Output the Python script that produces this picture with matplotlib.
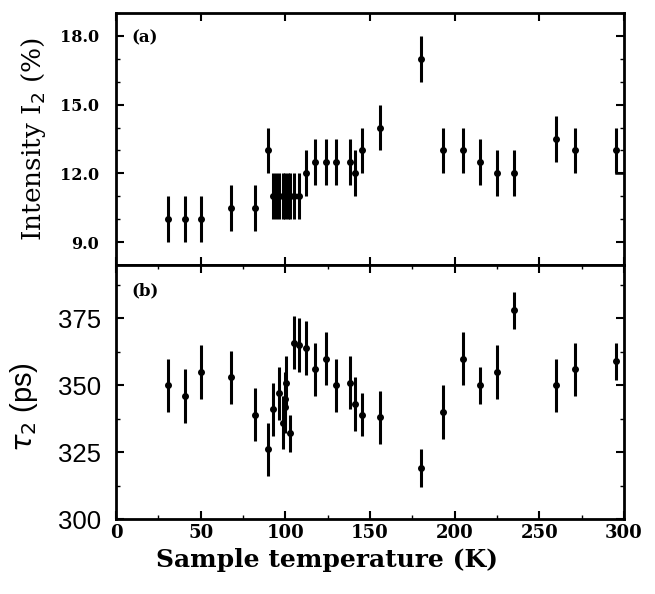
import matplotlib
matplotlib.use("Agg")
import matplotlib.pyplot as plt
from matplotlib.ticker import MultipleLocator

# Panel (a): intensity I2 (%)
T_a = [31, 41, 50, 68, 82, 90, 92.5, 94.5, 96.5, 98.5, 100, 101.5, 103, 105, 108,
       112, 117.5, 124, 130, 138, 141, 145, 156, 180, 193, 205, 215, 225, 235, 260, 271, 295]
I_a = [10.0, 10.0, 10.0, 10.5, 10.5, 13.0, 11.0, 11.0, 11.0, 11.0, 11.0, 11.0, 11.0, 11.0, 11.0,
       12.0, 12.5, 12.5, 12.5, 12.5, 12.0, 13.0, 14.0, 17.0, 13.0, 13.0, 12.5, 12.0, 12.0, 13.5, 13.0, 13.0]
E_a = [1.0] * len(T_a)
stray_T = [295, 300]
stray_I = [12.0, 12.0]

# Panel (b): tau2 (ps)
T_b = [31, 41, 50, 68, 82, 90, 93, 96, 98.8, 99.6, 100, 100.4, 102.6, 105.3, 108,
       112, 117.5, 124, 130, 138, 141, 145, 156, 180, 193, 205, 215, 225, 235, 260, 271, 295]
tau_b = [350, 346, 355, 353, 339, 326, 341, 347, 336, 342, 345, 351, 332, 366, 365,
         364, 356, 360, 350, 351, 343, 339, 338, 319, 340, 360, 350, 355, 378, 350, 356, 359]
E_b = [10, 10, 10, 10, 10, 10, 10, 10, 10, 10, 10, 10, 7, 10, 10,
       10, 10, 10, 10, 10, 10, 8, 10, 7, 10, 10, 7, 10, 7, 10, 10, 7]

xticks = [0, 50, 100, 150, 200, 250, 300]
yticks_a = [9.0, 12.0, 15.0, 18.0]
yticks_b = [300, 325, 350, 375]

fig = plt.figure(figsize=(6.55, 5.94), dpi=100)
L, W = 116 / 655, 508 / 655
ax1 = fig.add_axes([L, 1 - 265 / 594, W, 252 / 594])
ax2 = fig.add_axes([L, 1 - 519 / 594, W, 254 / 594])

serif = "DejaVu Serif"
for ax in (ax1, ax2):
    for s in ax.spines.values():
        s.set_linewidth(2.0)
    ax.set_xlim(0, 300)
    ax.set_xticks(xticks)
    ax.tick_params(which="major", direction="in", length=6, width=1.5,
                   top=True, right=True)
    ax.tick_params(which="minor", direction="in", length=3, width=1,
                   top=True, right=True)

ax1.errorbar(T_a, I_a, yerr=E_a, fmt="o", color="black", ms=4,
             elinewidth=2.2, capsize=0)
ax1.plot(stray_T, stray_I, color="black", lw=1.8)
ax1.set_ylim(8, 19)
ax1.set_yticks(yticks_a)
ax1.set_yticklabels([f"{v:.1f}" for v in yticks_a], fontfamily=serif,
                    fontweight="bold", fontsize=11.5)
ax1.tick_params(axis="y", which="major", pad=12)
ax1.yaxis.set_minor_locator(MultipleLocator(1.0))
ax1.set_xticklabels([])
ax1.set_ylabel("Intensity I$_2$ (%)", fontfamily=serif, fontsize=19, labelpad=9)
ax1.text(0.03, 0.885, "(a)", transform=ax1.transAxes, fontfamily=serif,
         fontweight="bold", fontsize=12)

ax2.errorbar(T_b, tau_b, yerr=E_b, fmt="o", color="black", ms=4,
             elinewidth=2.2, capsize=0)
ax2.set_ylim(300, 395)
ax2.set_yticks(yticks_b)
ax2.set_yticklabels([str(v) for v in yticks_b], fontfamily="Liberation Sans",
                    fontsize=18.5)
ax2.tick_params(axis="y", which="major", pad=11)
ax2.yaxis.set_minor_locator(MultipleLocator(12.5))
ax2.set_xticklabels([str(v) for v in xticks], fontfamily=serif,
                    fontweight="bold", fontsize=13)
ax2.xaxis.set_minor_locator(MultipleLocator(25))
ax2.set_ylabel(r"$\tau_2$ (ps)", fontfamily="Liberation Sans", fontsize=21)
ax2.yaxis.set_label_coords(-0.15, 0.44)
ax2.set_xlabel("Sample temperature (K)", fontfamily=serif, fontweight="bold",
               fontsize=18)
ax2.xaxis.set_label_coords(0.415, -0.115)
ax2.text(0.03, 0.88, "(b)", transform=ax2.transAxes, fontfamily=serif,
         fontweight="bold", fontsize=12)

fig.savefig("out.png", dpi=100)
